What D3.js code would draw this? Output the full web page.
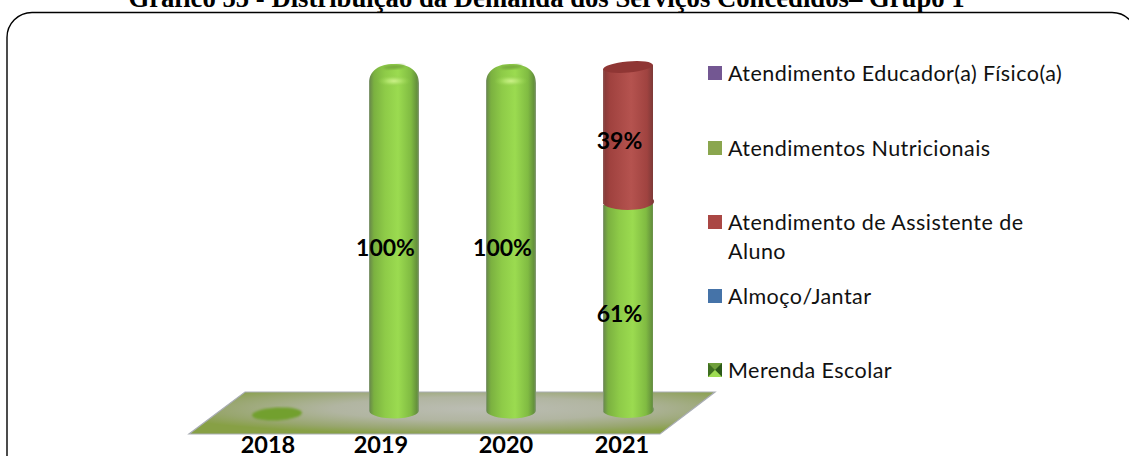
<!DOCTYPE html>
<html><head><meta charset="utf-8">
<script src="https://cdn.jsdelivr.net/npm/d3@7/dist/d3.min.js"></script>
<style>html,body{margin:0;padding:0;background:#fff;overflow:hidden}svg{display:block}</style>
</head><body><svg id="c" width="1129" height="456"></svg>
<script>
const titleText = "Gráfico 55 - Distribuição da Demanda dos Serviços Concedidos– Grupo 1";
const years = ["2018","2019","2020","2021"];
const merenda = [0,0,0,0];
const almoco = [0,0,0,0];
const assistente = [0,0,0,39];
const nutricionais = [0,100,100,61];
const educador = [0,0,0,0];
const legendLabels = [["Atendimento Educador(a) Físico(a)"],["Atendimentos Nutricionais"],["Atendimento de Assistente de","Aluno"],["Almoço/Jantar"],["Merenda Escolar"]];
const legendColors = ["#735792","#8aa64e","#aa4744","#4573a8","#6f9f3a"];

const W=1129,H=456;
const svg=d3.select("#c");
const defs=svg.append("defs");

function lin(id,stops){const g=defs.append("linearGradient").attr("id",id);
  stops.forEach(([o,c])=>g.append("stop").attr("offset",o).attr("stop-color",c));}
lin("gGreen",[[0,"#8a9a80"],[.03,"#6c9148"],[.1,"#7bb140"],[.32,"#8ecb48"],[.58,"#9bdb50"],[.84,"#80bb42"],[.96,"#64903c"],[1,"#8a9a80"]]);
lin("gRed",[[0,"#8f5a58"],[.04,"#8a3b39"],[.14,"#a0423f"],[.55,"#b5534f"],[.86,"#a04340"],[.97,"#7f3a38"],[1,"#8f5a58"]]);
const rg=defs.append("radialGradient").attr("id","gFloor").attr("cx",.55).attr("cy",.4).attr("r",.62);
[[0,"#bbbdb3"],[.45,"#b1b5a1"],[.8,"#98a66e"],[1,"#87a045"]].forEach(([o,c])=>rg.append("stop").attr("offset",o).attr("stop-color",c));
const cap=defs.append("radialGradient").attr("id","gCap");
[[0,"#cbf088"],[.4,"#aee268"],[1,"#8ecb48"]].forEach(([o,c],i)=>cap.append("stop").attr("offset",o).attr("stop-color",c).attr("stop-opacity",i===2?0:1));
defs.append("filter").attr("id","soft").append("feGaussianBlur").attr("stdDeviation",.8);

const x=d3.scalePoint().domain(years).range([277,628]);
const y=d3.scaleLinear().domain([0,100]).range([411,70]);
const r=25, ry=8;

// Outer frame
svg.append("rect").attr("x",7).attr("y",12.5).attr("width",1130).attr("height",480).attr("rx",25).attr("ry",25)
  .attr("fill","#fff").attr("stroke","#000").attr("stroke-width",1.4);

svg.append("text").attr("x",546.5).attr("y",6.5).attr("text-anchor","middle")
  .attr("font-family","Liberation Serif").attr("font-weight","bold").attr("font-size",26.7).text(titleText);

// Floor
const floor=[[245,392],[715,392],[660,434],[189,434]];
svg.append("polygon").attr("points",floor.join(" ")).attr("fill","url(#gFloor)").attr("stroke","#a9adb4").attr("stroke-width",1.2);

// Empty 2018 disc
const zero=years.filter((d,i)=>nutricionais[i]+assistente[i]===0);
svg.selectAll(".disc").data(zero).join("ellipse").attr("cx",d=>x(d)).attr("cy",414).attr("rx",25).attr("ry",6.5)
  .attr("transform",d=>`rotate(-3 ${x(d)} 414)`).attr("fill","#72a02f").attr("filter","url(#soft)");

// Stacked cylinders
const rows=years.map((yr,i)=>({year:yr,merenda:merenda[i],almoco:almoco[i],nutricionais:nutricionais[i],assistente:assistente[i],educador:educador[i]}));
const stack=d3.stack().keys(["merenda","almoco","nutricionais","assistente","educador"])(rows);
const fills={nutricionais:"url(#gGreen)",assistente:"url(#gRed)"};
const gBars=svg.append("g");
stack.forEach(s=>{
  s.forEach(d=>{
    const v=d[1]-d[0]; if(v<=0) return;
    const cx=x(d.data.year), yb=y(d[0]), yt=y(d[1]);
    const isTop=d[1]>=100;
    const g=gBars.append("g");
    if(s.key==="nutricionais"&&isTop){
      g.append("path").attr("d",`M${cx-r},${yb} A${r},${ry} 0 0 0 ${cx+r},${yb-1} L${cx+r},${yt+13} C${cx+r},${yt+1} ${cx+15},${yt-6} ${cx},${yt-6} C${cx-15},${yt-6} ${cx-r},${yt+1} ${cx-r},${yt+13} Z`)
        .attr("fill",fills[s.key]);
      g.append("ellipse").attr("cx",cx).attr("cy",yt+11).attr("rx",17).attr("ry",6).attr("fill","url(#gCap)");
      g.append("ellipse").attr("cx",cx).attr("cy",yt-3).attr("rx",11).attr("ry",2.2).attr("transform",`rotate(-4 ${cx} ${yt-3})`).attr("fill","#78ac3e").attr("filter","url(#soft)");
    } else {
      const top=s.key==="assistente"?yt-3:yt;
      g.append("path").attr("d",`M${cx-r},${yb+1} A${r},${ry} 0 0 0 ${cx+r},${yb-4} L${cx+r},${top-2} L${cx-r},${top+2} Z`).attr("fill",fills[s.key]);
      if(s.key==="assistente"){
        g.append("ellipse").attr("cx",cx).attr("cy",top).attr("rx",r).attr("ry",ry-2.5).attr("transform",`rotate(-5 ${cx} ${top})`).attr("fill","#8f3634");
      }
    }
  });
});

// Value labels
const labelFont="Lato, Carlito, sans-serif";
const lbl=[];
stack.forEach(s=>s.forEach(d=>{const v=d[1]-d[0]; if(v>0) lbl.push({year:d.data.year,v,mid:(d[0]+d[1])/2});}));
svg.selectAll(".val").data(lbl).join("text").attr("class","val")
  .attr("x",d=>x(d.year)-8.5).attr("y",d=>y(d.mid)+(d.v===39?12.5:15.5))
  .attr("text-anchor","middle").attr("font-family",labelFont).attr("font-weight","bold").attr("font-size",23).attr("fill","#000")
  .text(d=>d.v+"%");

// Category labels
const axisNudge={"2018":-9,"2019":-13,"2020":-5,"2021":-6};
svg.append("g").selectAll("text").data(years).join("text")
  .attr("x",d=>x(d)+axisNudge[d]).attr("y",453).attr("text-anchor","middle").attr("font-family",labelFont)
  .attr("font-weight","bold").attr("font-size",23.5).attr("fill","#000").text(d=>d);

// Legend
const ly=[66,141,215,289,363];
const leg=svg.append("g").selectAll("g").data(legendLabels).join("g").attr("transform",(d,i)=>`translate(708,${ly[i]})`);
leg.append("rect").attr("width",14).attr("height",14).attr("fill",(d,i)=>legendColors[i]);
leg.each(function(lines,i){
  const g=d3.select(this);
  if(i===4){
    [["0,0 14,0 7,7","#6f9f3a"],["0,0 7,7 0,14","#3f6f20"],["14,0 7,7 14,14","#2c5a18"],["0,14 14,14 7,7","#9edc52"]]
      .forEach(([p,c])=>g.append("polygon").attr("points",p).attr("fill",c));
  }
  lines.forEach((t,j)=>g.append("text").attr("x",20).attr("y",15+j*29).attr("font-family",labelFont).attr("font-size",21.5).attr("letter-spacing",.45).attr("fill","#111").text(t));
});
</script></body></html>
